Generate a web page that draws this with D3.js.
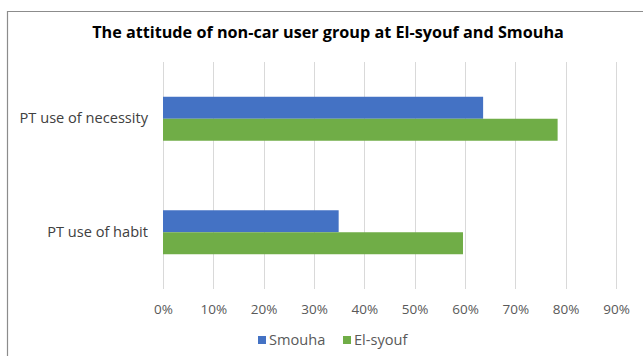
<!DOCTYPE html>
<html>
<head>
<meta charset="utf-8">
<script src="https://cdn.jsdelivr.net/npm/d3@7/dist/d3.min.js"></script>
<style>
  html, body { margin: 0; padding: 0; background: #fff; }
  svg { display: block; }
</style>
</head>
<body>
<svg id="chart" width="643" height="356"></svg>
<script>
// Categories (top to bottom) and series shares
const categories = ["PT use of necessity", "PT use of habit"];
const seriesNames = ["Smouha", "El-syouf"];
const smouhaValues = [0.636, 0.349];
const elSyoufValues = [0.784, 0.596];
const tickValues = [0, 0.1, 0.2, 0.3, 0.4, 0.5, 0.6, 0.7, 0.8, 0.9];
const seriesColors = ["#4472C4", "#70AD47"];

const seriesValues = { "Smouha": smouhaValues, "El-syouf": elSyoufValues };
const rows = categories.map((c, i) => ({
  category: c,
  values: seriesNames.map(s => ({ series: s, value: seriesValues[s][i] }))
}));

const svg = d3.select("#chart");
const W = 643, H = 356;
const font = "'Open Sans', sans-serif";

// Chart frame
svg.append("rect").attr("x", 0).attr("y", 0).attr("width", W).attr("height", H).attr("fill", "#fff");
svg.append("path")
  .attr("d", `M7.5,${H} V11.5 H${W}`)
  .attr("fill", "none").attr("stroke", "#8c8c8c").attr("stroke-width", 1.2);

// Title
svg.append("text")
  .attr("x", 328).attr("y", 38)
  .attr("text-anchor", "middle")
  .attr("font-family", font).attr("font-weight", "bold")
  .attr("font-size", 16.2).attr("fill", "#000")
  .text("The attitude of non-car user group at El-syouf and Smouha");

// Scales
const x = d3.scaleLinear().domain([0, 0.9]).range([163, 616]);
const y0 = d3.scaleBand().domain(categories).range([62, 289]).padding(0);
const y1 = d3.scaleBand().domain(seriesNames).range([0, y0.bandwidth()])
  .paddingInner(0).paddingOuter(1.58);
const color = d3.scaleOrdinal().domain(seriesNames).range(seriesColors);

// Vertical gridlines
svg.append("g").selectAll("line").data(tickValues).join("line")
  .attr("x1", d => Math.round(x(d)) + 0.5).attr("x2", d => Math.round(x(d)) + 0.5)
  .attr("y1", 62).attr("y2", 289)
  .attr("stroke", "#d9d9d9").attr("stroke-width", 1);

// Bars
const groups = svg.append("g").selectAll("g").data(rows).join("g")
  .attr("transform", d => `translate(0,${y0(d.category)})`);
groups.selectAll("rect").data(d => d.values).join("rect")
  .attr("x", x(0))
  .attr("y", d => y1(d.series))
  .attr("width", d => x(d.value) - x(0))
  .attr("height", y1.bandwidth())
  .attr("fill", d => color(d.series));

// X axis labels
const xAxis = d3.axisBottom(x).tickValues(tickValues).tickFormat(d3.format(".0%")).tickSize(0).tickPadding(0);
const xg = svg.append("g").attr("transform", "translate(0,304)").call(xAxis);
xg.select(".domain").remove();
xg.selectAll("text")
  .attr("font-family", font).attr("font-size", 13.5).attr("fill", "#595959")
  .attr("dy", "0.71em");

// Y axis labels
const yAxis = d3.axisLeft(y0).tickSize(0).tickPadding(0);
const yg = svg.append("g").attr("transform", "translate(148,0)").call(yAxis);
yg.select(".domain").remove();
yg.selectAll("text")
  .attr("font-family", font).attr("font-size", 14.6).attr("fill", "#404040");

// Legend
const legendItems = [{ name: "Smouha", x: 258 }, { name: "El-syouf", x: 343 }];
const legend = svg.append("g").selectAll("g").data(legendItems).join("g")
  .attr("transform", d => `translate(${d.x},340)`);
legend.append("rect")
  .attr("x", 0).attr("y", -4).attr("width", 8).attr("height", 8)
  .attr("fill", d => color(d.name));
legend.append("text")
  .attr("x", 11).attr("y", 0).attr("dy", "0.35em")
  .attr("font-family", font).attr("font-size", 14.6).attr("fill", "#595959")
  .text(d => d.name);
</script>
</body>
</html>
